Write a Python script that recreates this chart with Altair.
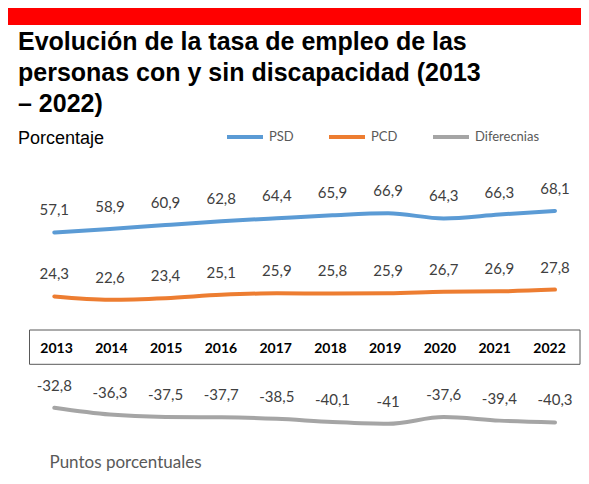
import altair as alt
import pandas as pd

years = [2013, 2014, 2015, 2016, 2017, 2018, 2019, 2020, 2021, 2022]
psd = [57.1, 58.9, 60.9, 62.8, 64.4, 65.9, 66.9, 64.3, 66.3, 68.1]
pcd = [24.3, 22.6, 23.4, 25.1, 25.9, 25.8, 25.9, 26.7, 26.9, 27.8]
dif = [-32.8, -36.3, -37.5, -37.7, -38.5, -40.1, -41.0, -37.6, -39.4, -40.3]
series_names = ["PSD", "PCD", "Diferecnias"]
series_colors = ["#5b9bd5", "#ed7d31", "#a5a5a5"]

rows = []
for name, vals in zip(series_names, [psd, pcd, dif]):
    for y, v in zip(years, vals):
        lbl = ("%g" % v).replace(".", ",")
        rows.append({"year": y, "value": v, "series": name, "label": lbl})
df = pd.DataFrame(rows)
years_df = pd.DataFrame({"year": years, "ylabel": [str(y) for y in years]})
one = pd.DataFrame({"k": [0]})

W, H = 552, 324
xs = alt.Scale(domain=[2012.5452, 2022.4674], nice=False, zero=False)
ys = alt.Scale(domain=[-66.77, 99.38], nice=False, zero=False)
color = alt.Color(
    "series:N",
    scale=alt.Scale(domain=series_names, range=series_colors),
    sort=series_names,
    legend=alt.Legend(
        orient="none", legendX=196, legendY=-33, direction="horizontal",
        title=None, symbolType="stroke", symbolSize=1296, symbolStrokeWidth=4,
        labelFont="Lato", labelFontSize=13, labelColor="#595959",
        labelOffset=4, columnPadding=27, padding=0,
    ),
)

red_bar = alt.Chart(one).mark_rect(color="#ff0000").encode(
    x=alt.value(-21), x2=alt.value(W), y=alt.value(-142), y2=alt.value(-125)
)
box = alt.Chart(one).mark_rect(fill="white", stroke="#595959", strokeWidth=1).encode(
    x=alt.value(0.5), x2=alt.value(W - 1), y=alt.value(180), y2=alt.value(214.3)
)

lines = alt.Chart(df).mark_line(strokeWidth=4, interpolate="monotone", strokeCap="round").encode(
    x=alt.X("year:Q", scale=xs, axis=alt.Axis(
        title="Puntos porcentuales", labels=False, ticks=False, domain=False, grid=False,
        titleX=20, titleY=-12, titleAlign="left", titleBaseline="middle",
        titleFont="Lato", titleFontSize=17, titleFontWeight="normal", titleColor="#595959",
    )),
    y=alt.Y("value:Q", scale=ys, axis=None),
    color=color,
    detail="series:N",
)

labels = alt.Chart(df).mark_text(
    font="Lato", fontSize=15, color="#404040", dy=-22, baseline="middle"
).encode(
    x=alt.X("year:Q", scale=xs, axis=None),
    y=alt.Y("value:Q", scale=ys, axis=None),
    text="label:N",
)

year_labels = alt.Chart(years_df).mark_text(
    font="Lato", fontSize=14, fontWeight="bold", color="black", baseline="middle", dy=5
).encode(
    x=alt.X("year:Q", scale=alt.Scale(domain=[2012.4961, 2022.5751], nice=False, zero=False), axis=None),
    y=alt.Y("zero:Q", scale=ys, axis=None),
    text="ylabel:N",
).transform_calculate(zero="0")

chart = alt.layer(red_bar, box, year_labels, lines, labels).resolve_scale(
    x="independent"
).properties(
    width=W, height=H,
    autosize=alt.AutoSizeParams(type="none"),
    padding={"left": 21, "top": 142, "right": 0, "bottom": 0},
    background="white",
    title=alt.TitleParams(
        text=["Evolución de la tasa de empleo de las",
              "personas con y sin discapacidad (2013",
              "– 2022)"],
        subtitle="Porcentaje",
        anchor="start", frame="group", dx=-11, offset=-140,
        font="Liberation Sans", fontSize=25, fontWeight="bold", color="black",
        lineHeight=31,
        subtitleFont="Liberation Sans", subtitleFontSize=18, subtitleColor="black",
        subtitlePadding=13,
    ),
).configure_view(strokeWidth=0)

chart.save("out.html", embed_options={"renderer": "svg", "actions": False})
